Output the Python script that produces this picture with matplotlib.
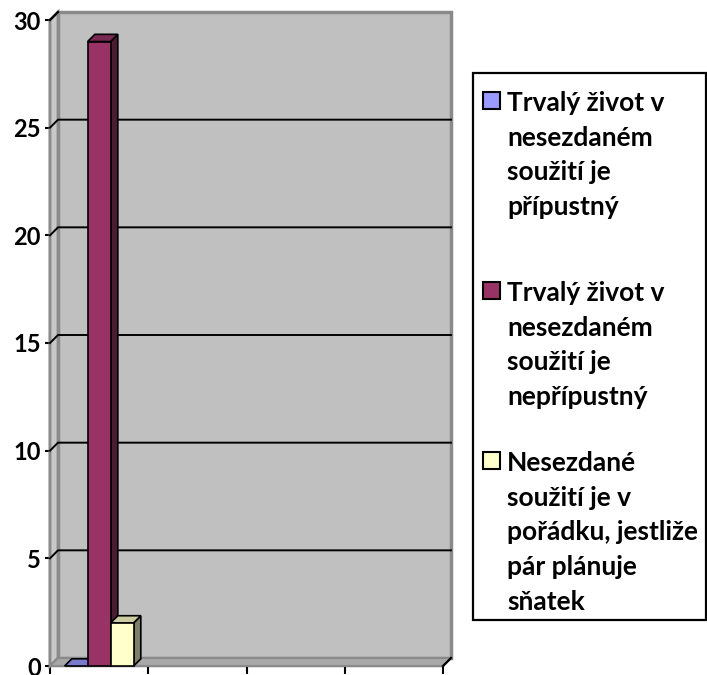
import matplotlib
matplotlib.use("Agg")
import matplotlib.pyplot as plt
from matplotlib.patches import Polygon, Rectangle
from matplotlib.transforms import IdentityTransform
import numpy as np

plt.rcParams['font.family'] = ['Lato', 'DejaVu Sans']

categories = ["1", "2", "3", "4"]
series_names = [
    "Trvalý život v\nnesezdaném\nsoužití je\npřípustný",
    "Trvalý život v\nnesezdaném\nsoužití je\nnepřípustný",
    "Nesezdané\nsoužití je v\npořádku, jestliže\npár plánuje\nsňatek",
]
nan = float("nan")
series_values = [
    [0, nan, nan, nan],
    [29, nan, nan, nan],
    [2, nan, nan, nan],
]
front_colors = ["#9999FF", "#993366", "#FFFFCC"]
side_colors = ["#4D4D80", "#4D1A33", "#808066"]
top_colors = ["#7A7ACC", "#7A2952", "#CCCCA3"]
yticks = [0, 5, 10, 15, 20, 25, 30]

W, H, DPI = 707, 675, 100
fig = plt.figure(figsize=(W / DPI, H / DPI), dpi=DPI)
ax = fig.add_axes([50 / W, 9 / H, 393 / W, 646 / H])
ax.set_xlim(0, len(categories))
ax.set_ylim(0, 30)
ax.patch.set_visible(False)
for s in ["top", "right"]:
    ax.spines[s].set_visible(False)
for s in ["left", "bottom"]:
    ax.spines[s].set_linewidth(1.6)
    ax.spines[s].set_zorder(20)
ax.set_yticks(yticks)
ax.set_yticklabels([str(t) for t in yticks], fontsize=17, fontweight='bold')
ax.set_xticks(np.arange(len(categories) + 1))
ax.set_xticklabels([])
ax.tick_params(axis='y', direction='out', length=3.6, width=1.5, pad=3)
ax.tick_params(axis='x', direction='out', length=5.8, width=1.5)

DX, DY = 8, 8
T = ax.transData

def P(x, y, d=0.0):
    px, py = T.transform((x, y))
    return (px + d * DX, py + d * DY)

ident = IdentityTransform()
nC = len(categories)

# back wall
bw = [P(0, 0, 1), P(nC, 0, 1), P(nC, 30, 1), P(0, 30, 1)]
fig.add_artist(Polygon(bw, closed=True, facecolor="#C0C0C0", edgecolor="#8A8A8A",
                       lw=2.5, transform=ident, zorder=1))
# side wall
sw = [P(0, 0, 0), P(0, 0, 1), P(0, 30, 1), P(0, 30, 0)]
fig.add_artist(Polygon(sw, closed=True, facecolor="#C8C8C8", edgecolor="#8A8A8A",
                       lw=2, transform=ident, zorder=2))
# floor
fl = [P(0, 0, 0), P(nC, 0, 0), P(nC, 0, 1), P(0, 0, 1)]
fig.add_artist(Polygon(fl, closed=True, facecolor="#A8A8A8", edgecolor="#8A8A8A",
                       lw=1.5, transform=ident, zorder=2))

# gridlines
for yv in yticks[1:-1]:
    pts = [P(0, yv, 0), P(0, yv, 1), P(nC, yv, 1)]
    fig.add_artist(plt.Line2D([p[0] for p in pts], [p[1] for p in pts], color="black",
                              lw=1.4, transform=ident, zorder=3))
# axis diagonals
for (a, b) in [((0, 30), (0, 30)), ((nC, 0), (nC, 0))]:
    p0 = P(*a, 0); p1 = P(*b, 1)
    fig.add_artist(plt.Line2D([p0[0], p1[0]], [p0[1], p1[1]], color="black", lw=1.6,
                              transform=ident, zorder=20))

# bars
bw_ = 0.234
x = np.arange(nC) + 0.5
offsets = [-bw_, 0, bw_]
for i, vals in enumerate(series_values):
    xs = x + offsets[i]
    ax.bar(xs, vals, width=bw_, color=front_colors[i], edgecolor="black",
           lw=1.2, zorder=10 + i * 0.1, label=series_names[i])
    for xc, v in zip(xs, vals):
        if np.isnan(v):
            continue
        x0, x1 = xc - bw_ / 2, xc + bw_ / 2
        d = 0.9
        if v > 0:
            side = [P(x1, 0, 0), P(x1, 0, d), P(x1, v, d), P(x1, v, 0)]
            fig.add_artist(Polygon(side, closed=True, facecolor=side_colors[i],
                                   edgecolor="black", lw=1.2, transform=ident, zorder=10 + i))
        top = [P(x0, v, 0), P(x1, v, 0), P(x1, v, d), P(x0, v, d)]
        fig.add_artist(Polygon(top, closed=True, facecolor=top_colors[i],
                               edgecolor="black", lw=1.2, transform=ident, zorder=10 + i))
        if v > 0:
            fr = [P(x0, 0), P(x1, 0), P(x1, v), P(x0, v)]
            fig.add_artist(Polygon(fr, closed=True, facecolor=front_colors[i],
                                   edgecolor="black", lw=1.2, transform=ident, zorder=10.5 + i))

# legend (manual)
lx0, ly0, lx1, ly1 = 473, 73, 706, 620
fig.add_artist(Rectangle((lx0 / W, 1 - ly1 / H), (lx1 - lx0) / W, (ly1 - ly0) / H,
                         transform=fig.transFigure, facecolor="white", edgecolor="black",
                         lw=1.6, zorder=30))
entry_baselines = [111, 301, 471]
line_step = 34.7
for i, name in enumerate(series_names):
    yb = entry_baselines[i]
    fig.add_artist(Rectangle((483 / W, 1 - (yb - 2) / H), 17 / W, 17 / H,
                             transform=fig.transFigure, facecolor=front_colors[i],
                             edgecolor="black", lw=1.5, zorder=31))
    for k, line in enumerate(name.split("\n")):
        fig.text(507 / W, 1 - (yb + k * line_step) / H, line, fontsize=19, fontweight='bold',
                 va='baseline', ha='left', zorder=31)

fig.savefig("out.png", dpi=DPI)
